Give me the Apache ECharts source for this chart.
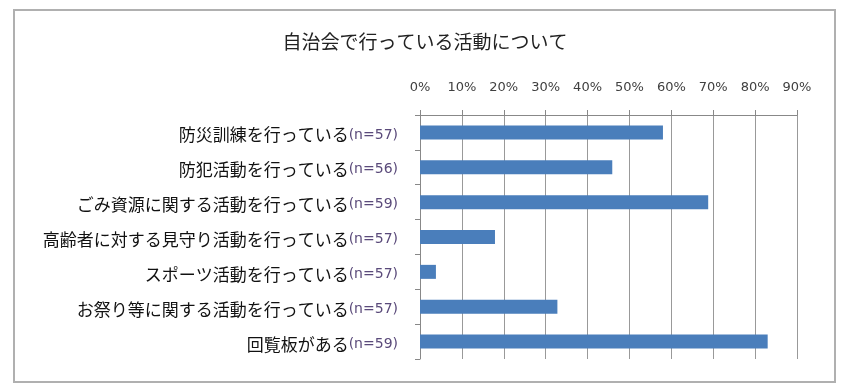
<!DOCTYPE html>
<html><head><meta charset="utf-8">
<script src="https://cdn.jsdelivr.net/npm/echarts@6/dist/echarts.min.js"></script>
<style>html,body{margin:0;padding:0;background:#fff}#c{width:858px;height:392px}</style>
</head><body><div id="c"></div>
<script>
var titleText = '自治会で行っている活動について';
var categories = ['防災訓練を行っている','防犯活動を行っている','ごみ資源に関する活動を行っている','高齢者に対する見守り活動を行っている','スポーツ活動を行っている','お祭り等に関する活動を行っている','回覧板がある'];
var sampleSizes = ['(n=57)','(n=56)','(n=59)','(n=57)','(n=57)','(n=57)','(n=59)'];
var values = [58.0, 45.9, 68.8, 17.9, 3.8, 32.8, 83.0];
var tickMin = 0, tickMax = 90, tickStep = 10;

var labels = categories.map(function(c,i){return c + '|' + sampleSizes[i];});
var chart = echarts.init(document.getElementById('c'));
chart.setOption({
  animation:false,
  backgroundColor:'#fff',
  title:{text:titleText,left:420,top:27,textAlign:'center',
    textStyle:{fontFamily:'Noto Sans CJK JP',fontSize:19,fontWeight:'normal',color:'#222'}},
  graphic:[{type:'rect',shape:{x:14,y:10,width:821,height:372},
    style:{fill:'none',stroke:'#b0b0b0',lineWidth:2},silent:true}],
  grid:{left:420,right:61,top:115,bottom:33,containLabel:false},
  xAxis:{type:'value',position:'top',min:tickMin,max:tickMax,interval:tickStep,
    axisLine:{show:true,lineStyle:{color:'#888',width:1}},
    axisTick:{show:true,length:5,lineStyle:{color:'#888'}},
    splitLine:{show:true,lineStyle:{color:'#999',width:1}},
    axisLabel:{formatter:'{value}%',margin:21,fontFamily:'DejaVu Sans',fontSize:13,color:'#404040'}},
  yAxis:{type:'category',inverse:true,data:labels,
    axisLine:{show:true,lineStyle:{color:'#888',width:1}},
    axisTick:{show:true,length:5,lineStyle:{color:'#888'}},
    axisLabel:{margin:22,formatter:function(v){var p=v.split('|');return '{a|'+p[0]+'}{b|'+p[1]+'}';},
      rich:{a:{fontFamily:'Noto Sans CJK JP',fontSize:17,color:'#111',height:22,verticalAlign:'bottom'},
            b:{fontFamily:'DejaVu Sans',fontSize:14,color:'#5a4a7a',height:22,verticalAlign:'bottom',padding:[5,0,0,0]}}}},
  series:[{type:'bar',data:values,barWidth:14,itemStyle:{color:'#4a7ebb'}}]
});
</script></body></html>
